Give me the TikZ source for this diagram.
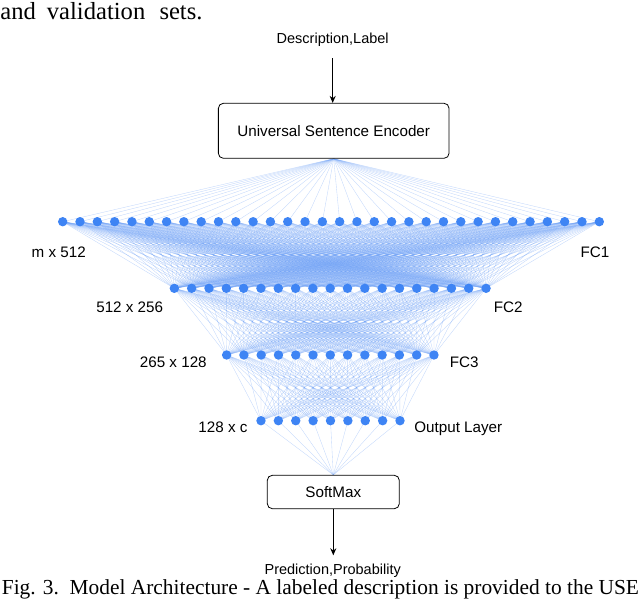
\documentclass[tikz,border=0pt]{standalone}
\usepackage{fontspec}
\setmainfont{Liberation Serif}
\newfontfamily\diagfont{Liberation Sans}
\usetikzlibrary{arrows.meta}
\definecolor{dotblue}{RGB}{62,132,244}
\definecolor{wireblue}{RGB}{110,160,245}
\pgfdeclarelayer{background}
\pgfsetlayers{background,main}
\begin{document}
\begin{tikzpicture}[x=1pt,y=-1pt,
  neuron/.style={circle,fill=dotblue,inner sep=0pt,minimum size=9.4pt},
  wire/.style={draw=wireblue,line width=0.35pt,opacity=0.42},
  blockbox/.style={draw=black,line width=0.8pt,rounded corners=5pt,fill=white,font=\diagfont\fontsize{15.2}{18}\selectfont},
  lbl/.style={anchor=base,font=\diagfont\fontsize{15.2}{18}\selectfont,inner sep=0pt},
  iotext/.style={font=\diagfont\fontsize{14.5}{17}\selectfont,inner sep=0pt},
  arr/.style={draw=black,line width=1pt,-{Stealth[length=7pt,width=6pt]}},
  papertext/.style={anchor=base west,inner sep=0pt},
  headtext/.style={papertext,font=\fontsize{24.6}{28}\selectfont,text height=16.5pt}]
\useasboundingbox (0,0) rectangle (640,611);
\clip (0,0) rectangle (640,611);

% paper text around the figure
\node[headtext] (t1) at (0.3,19) {and};
\node[headtext] (t2) at (46.7,19) {validation};
\node[headtext] (t3) at (159.3,19) {sets.};
\node[papertext,font=\fontsize{21.4}{24}\selectfont,text height=13pt] (cap) at (1.7,594) {Fig. 3.\ \ Model Architecture - A labeled description is provided to the USE};

% layers
\foreach \i in {1,...,32} \node[neuron] (a\i) at ({331+(\i-16.5)*17.31},221.7) {};
\foreach \i in {1,...,19} \node[neuron] (b\i) at ({330.2+(\i-10)*17.32},288.3) {};
\foreach \i in {1,...,13} \node[neuron] (c\i) at ({330.3+(\i-7)*17.28},355) {};
\foreach \i in {1,...,9} \node[neuron] (d\i) at ({330.5+(\i-5)*17.38},420.7) {};

% boxes and io
\node[iotext] (in) at (332.7,39.5) {Description,Label};
\node[blockbox,minimum width=230.7pt,minimum height=55pt] (use) at (333.7,130.8) {Universal Sentence Encoder};
\node[blockbox,minimum width=132pt,minimum height=33.4pt] (sm) at (333.3,492) {SoftMax};
\node[iotext,anchor=base,text depth=2.5pt] (out) at (332.7,574) {Prediction,Probability};
\draw[arr,shorten <=12pt] (in) -- (in |- use.north);
\draw[arr,shorten >=8pt] (sm) -- (sm.south |- out.north);

% labels
\node[lbl] (l1) at (58.7,257.8) {m x 512};
\node[lbl] (r1) at (595,257.2) {FC1};
\node[lbl] (l2) at (129.7,312.8) {512 x 256};
\node[lbl] (r2) at (508.3,312.8) {FC2};
\node[lbl] (l3) at (173.3,367.2) {265 x 128};
\node[lbl] (r3) at (464.3,367.2) {FC3};
\node[lbl] (l4) at (223,432.2) {128 x c};
\node[lbl] (r4) at (458.3,432.2) {Output Layer};

% connections
\begin{pgfonlayer}{background}
\foreach \i in {1,...,32} \draw[wire] (use.south) -- (a\i.center);
\foreach \i in {1,...,32} \foreach \j in {1,...,19} \draw[wire] (a\i.center) -- (b\j.center);
\foreach \i in {1,...,19} \foreach \j in {1,...,13} \draw[wire] (b\i.center) -- (c\j.center);
\foreach \i in {1,...,13} \foreach \j in {1,...,9} \draw[wire] (c\i.center) -- (d\j.center);
\foreach \i in {1,...,9} \draw[wire] (d\i.center) -- (sm.north);
\end{pgfonlayer}
\end{tikzpicture}
\end{document}
